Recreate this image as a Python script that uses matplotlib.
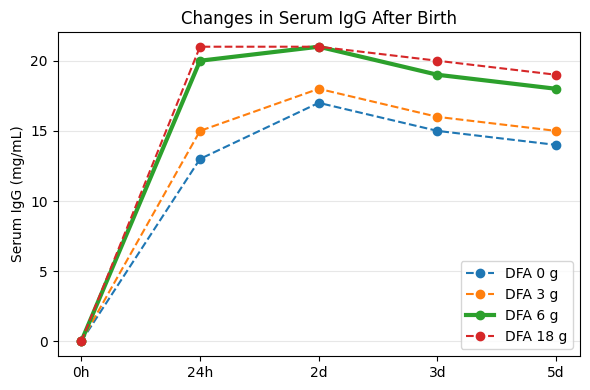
import matplotlib
matplotlib.use('Agg')
import matplotlib.pyplot as plt

# Data
timepoints = ['0h', '24h', '2d', '3d', '5d']
dfa_0g = [0, 13, 17, 15, 14]
dfa_3g = [0, 15, 18, 16, 15]
dfa_6g = [0, 20, 21, 19, 18]
dfa_18g = [0, 21, 21, 20, 19]

fig, ax = plt.subplots(figsize=(5.9, 3.9), dpi=100)

ax.plot(timepoints, dfa_0g, 'o--', label='DFA 0 g', color='#1f77b4')
ax.plot(timepoints, dfa_3g, 'o--', label='DFA 3 g', color='#ff7f0e')
ax.plot(timepoints, dfa_6g, 'o-', label='DFA 6 g', color='#2ca02c', linewidth=3)
ax.plot(timepoints, dfa_18g, 'o--', label='DFA 18 g', color='#d62728')

ax.set_title('Changes in Serum IgG After Birth')
ax.set_ylabel('Serum IgG (mg/mL)')
ax.grid(axis='y', alpha=0.3)
ax.legend(loc='lower right')

fig.subplots_adjust(left=0.0975, right=0.983, top=0.918, bottom=0.087)
plt.savefig('out.png', dpi=100)
